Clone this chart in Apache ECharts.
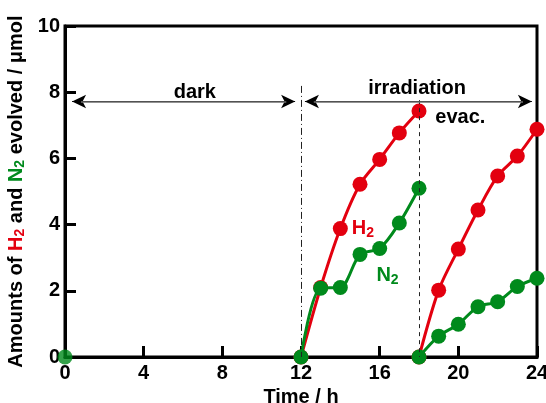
<!DOCTYPE html>
<html><head><meta charset="utf-8">
<script src="https://cdn.jsdelivr.net/npm/echarts@6/dist/echarts.min.js"></script>
<style>html,body{margin:0;padding:0;background:#fff}#c{width:546px;height:403px}</style>
</head><body><div id="c"></div>
<script>
const xTicks = [0, 4, 8, 12, 16, 20, 24];
const yTicks = [0, 2, 4, 6, 8, 10];
const hours1 = [12, 13, 14, 15, 16, 17, 18];
const h2Run1 = [0, 2.1, 3.88, 5.22, 5.97, 6.77, 7.43];
const n2Run1 = [0, 2.08, 2.1, 3.1, 3.28, 4.05, 5.1];
const hours2 = [18, 19, 20, 21, 22, 23, 24];
const h2Run2 = [0, 2.02, 3.26, 4.44, 5.47, 6.07, 6.88];
const n2Run2 = [0, 0.63, 0.99, 1.52, 1.67, 2.13, 2.38];
const darkPoint = [[0, 0]];
// annotation spans (hours) and level
const darkSpan = [0.36, 11.7];
const irrSpan = [12.2, 23.74];
const arrowLevel = 7.72;

const RED = '#e3000f', GREEN = '#008a1c';
const FONT = '"Liberation Sans", Arial, sans-serif';
const FS = 20, SUB = 14;
const pair = (xs, ys) => xs.map((x, i) => [x, ys[i]]);

function lineSeries(name, data, color, z) {
  return {
    name, type: 'line', data, smooth: 0.3, symbol: 'circle', symbolSize: 15,
    lineStyle: { color, width: 3 }, itemStyle: { color }, z, animation: false
  };
}
const txt = (color, size) => ({ fontFamily: FONT, fontWeight: 'bold', fontSize: size, color });
const sub = (color, pad) => Object.assign(txt(color, SUB), { verticalAlign: 'bottom', padding: [pad, 0, 0, 0] });
// black arrow line (heads at both ends) drawn underneath, gray shaft drawn on top
const arrowBlack = s => [{ coord: [s[0], arrowLevel], symbol: 'arrow', symbolSize: [10, 14],
                           lineStyle: { type: 'solid', color: '#000', width: 1 } },
                         { coord: [s[1], arrowLevel], symbol: 'arrow', symbolSize: [10, 14] }];
const shaft = s => [{ coord: [s[0], arrowLevel], symbol: 'none', lineStyle: { type: 'solid', color: '#6e6e6e', width: 1.6 } },
                    { coord: [s[1], arrowLevel], symbol: 'none' }];

const chart = echarts.init(document.getElementById('c'));
chart.setOption({
  animation: false,
  grid: { left: 65, right: 9, top: 26, bottom: 46, show: true, borderColor: '#000', borderWidth: 3,
          outerBoundsMode: 'none', containLabel: false },
  xAxis: {
    type: 'value', min: 0, max: 24, interval: 4,
    name: 'Time / h', nameLocation: 'middle', nameGap: 26,
    nameTextStyle: txt('#000', FS),
    axisLine: { lineStyle: { color: '#000', width: 3 } },
    axisTick: { inside: true, length: 11, lineStyle: { color: '#000', width: 3 } },
    axisLabel: Object.assign(txt('#000', FS), { margin: 6 }),
    splitLine: { show: false }
  },
  yAxis: {
    type: 'value', min: 0, max: 10, interval: 2,
    name: '{a|Amounts of }{h|H}{hs|2}{a| and }{n|N}{ns|2}{a| evolved / μmol}',
    nameLocation: 'middle', nameGap: 24, nameRotate: 90,
    nameTextStyle: Object.assign(txt('#000', FS), {
      rich: { a: txt('#000', FS), h: txt(RED, FS), hs: sub(RED, 7), n: txt(GREEN, FS), ns: sub(GREEN, 7) }
    }),
    axisLine: { lineStyle: { color: '#000', width: 3 } },
    axisTick: { inside: true, length: 11, lineStyle: { color: '#000', width: 3 } },
    axisLabel: Object.assign(txt('#000', FS), { margin: 5 }),
    splitLine: { show: false }
  },
  series: [
    {
      type: 'line', data: [], silent: true, z: 1,
      markLine: {
        silent: true, animation: false, label: { show: false },
        data: [
          [{ coord: [12, 8.19], symbol: 'none', lineStyle: { type: [7, 3, 1, 3], color: '#222', width: 1 } },
           { coord: [12, 0], symbol: 'none' }],
          [{ coord: [18, 7.76], symbol: 'none', lineStyle: { type: [4, 4], color: '#222', width: 1 } },
           { coord: [18, 0], symbol: 'none' }],
          arrowBlack(darkSpan),
          arrowBlack(irrSpan)
        ]
      },
      markPoint: {
        silent: true, animation: false, symbol: 'circle', symbolSize: 0,
        label: Object.assign({ show: true, position: 'inside' }, txt('#000', FS)),
        data: [
          { coord: [6.6, 8.0], label: { formatter: 'dark' } },
          { coord: [17.9, 8.1], label: { formatter: 'irradiation' } },
          { coord: [20.1, 7.24], label: { formatter: 'evac.' } },
          { coord: [15.15, 3.88], label: { formatter: '{m|H}{s|2}', rich: { m: txt(RED, FS), s: sub(RED, 9) } } },
          { coord: [16.4, 2.46], label: { formatter: '{m|N}{s|2}', rich: { m: txt(GREEN, FS), s: sub(GREEN, 9) } } }
        ]
      }
    },
    {
      type: 'line', data: [], silent: true, z: 2,
      markLine: { silent: true, animation: false, label: { show: false },
        data: [shaft([darkSpan[0] + 0.45, darkSpan[1] - 0.45]), shaft([irrSpan[0] + 0.45, irrSpan[1] - 0.45])] }
    },
    lineSeries('H2 run 1', pair(hours1, h2Run1), RED, 3),
    lineSeries('H2 run 2', pair(hours2, h2Run2), RED, 3),
    lineSeries('N2 run 1', pair(hours1, n2Run1), GREEN, 4),
    lineSeries('N2 run 2', pair(hours2, n2Run2), GREEN, 4),
    { type: 'scatter', name: 'dark', data: darkPoint, symbolSize: 15, itemStyle: { color: GREEN }, z: 5 }
  ]
});
</script></body></html>
